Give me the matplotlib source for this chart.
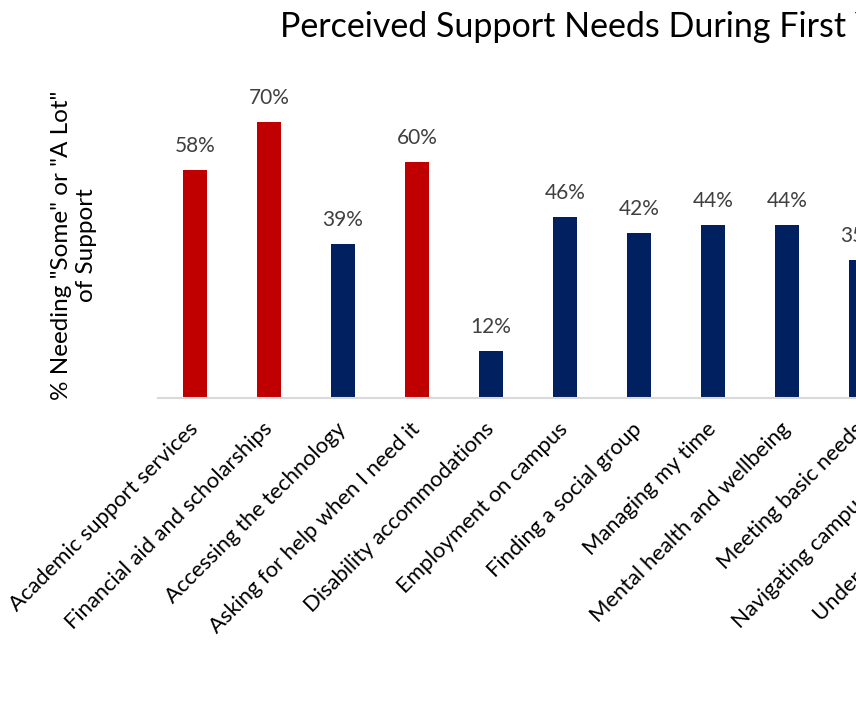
import matplotlib
matplotlib.use('Agg')
import matplotlib.pyplot as plt
import numpy as np

plt.rcParams['font.family'] = ['Lato', 'DejaVu Sans']

# data (last two bars sit outside the visible crop)
categories = ['Academic support services', 'Financial aid and scholarships',
              'Accessing the technology', 'Asking for help when I need it',
              'Disability accommodations', 'Employment on campus',
              'Finding a social group', 'Managing my time',
              'Mental health and wellbeing', 'Meeting basic needs',
              'Navigating campus resources', 'Understanding expectations']
values = [58, 70, 39, 60, 12, 46, 42, 44, 44, 35, 38, 40]

red = '#C00000'
navy = '#002060'
colors = [red if v >= 50 else navy for v in values]

W, H = 856, 725
fig = plt.figure(figsize=(W / 100, H / 100), dpi=100)
# axes run past the right edge, like the cropped original
ax = fig.add_axes([158 / W, 327 / H, 888 / W, 315 / H])

x = np.arange(len(categories))
ax.bar(x, values, width=0.32, color=colors)
for xi, v in zip(x, values):
    ax.text(xi, v + 4.6, f'{v}%', ha='center', va='baseline', fontsize=15, color='#404040')

ax.set_xlim(-0.5, len(categories) - 0.5)
ax.set_ylim(0, 80)
ax.set_xticks(x)
ax.set_xticklabels(categories, rotation=45, ha='right', va='center',
                   rotation_mode='anchor', fontsize=15.8)
ax.tick_params(axis='x', length=0, pad=20)
ax.set_yticks([])
for s in ['top', 'right', 'left']:
    ax.spines[s].set_visible(False)
ax.spines['bottom'].set_color('#D9D9D9')
ax.spines['bottom'].set_linewidth(1.5)

fig.text(74 / W, 1 - 245 / H, '% Needing "Some" or "A Lot"\nof Support', rotation=90,
         ha='center', va='center', fontsize=17.5, multialignment='center')
fig.text((158 + 444) / W, 1 - 37 / H, 'Perceived Support Needs During First Year',
         ha='center', va='baseline', fontsize=24.5)

fig.savefig('out.png', dpi=100)
